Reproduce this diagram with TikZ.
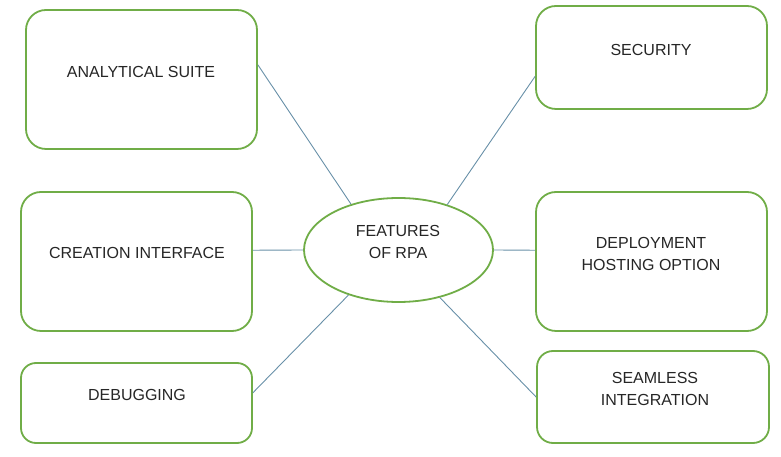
\documentclass[tikz,border=0pt]{standalone}
\usepackage{fontspec}
\setmainfont{Liberation Sans}
\usetikzlibrary{calc,shapes.geometric}
\definecolor{boxgreen}{RGB}{112,173,71}
\definecolor{linkblue}{RGB}{104,144,168}
\tikzset{
  featbox/.style={draw=boxgreen, line width=1.8pt, rounded corners=20pt, fill=white, inner sep=0pt},
  hub/.style={draw=boxgreen, line width=1.8pt, ellipse, fill=white, inner sep=0pt},
  lbl/.style={font=\fontsize{16}{22}\selectfont, text=black!85, align=center, inner sep=0pt},
  link/.style={draw=linkblue, line width=0.9pt}
}
\begin{document}
\begin{tikzpicture}[x=1pt,y=1pt]
\useasboundingbox (0,0) rectangle (781,457);
% boxes
\node[featbox, minimum width=231pt, minimum height=139pt] (as) at (141.5,377.5) {};
\node[featbox, minimum width=231pt, minimum height=139pt] (ci) at (136.5,195.5) {};
\node[featbox, minimum width=231pt, minimum height=80pt, rounded corners=15pt] (db) at (136.5,54) {};
\node[featbox, minimum width=231pt, minimum height=103pt] (se) at (651.5,399.5) {};
\node[featbox, minimum width=231pt, minimum height=139pt] (dh) at (651.5,195.5) {};
\node[featbox, minimum width=232pt, minimum height=92pt, rounded corners=16pt] (si) at (653,60) {};
\node[hub, minimum width=189pt, minimum height=104pt] (ell) at (398.5,207) {};
% labels
\node[lbl] (tas) at (141,385) {ANALYTICAL SUITE};
\node[lbl] (tci) at (137,204) {CREATION INTERFACE};
\node[lbl] (tdb) at (137,62) {DEBUGGING};
\node[lbl] (tse) at (651,407) {SECURITY};
\node[lbl] (tdh) at (651,203) {DEPLOYMENT\\HOSTING OPTION};
\node[lbl] (tsi) at (655,68.5) {SEAMLESS\\INTEGRATION};
\node[lbl] (tell) at (398,215) {FEATURES\\OF RPA};
% connectors
\draw[link] ($(as.north east)!0.396!(as.south east)$) -- (ell.136);
\draw[link] ($(ci.north east)!0.42!(ci.south east)$) -- (ell.west);
\draw[link] ($(db.north east)!0.375!(db.south east)$) -- (ell.222);
\draw[link] ($(se.north west)!0.68!(se.south west)$) -- (ell.43.5);
\draw[link] (ell.east) -- ($(dh.north west)!0.42!(dh.south west)$);
\draw[link] (ell.311) -- ($(si.north west)!0.5!(si.south west)$);
\end{tikzpicture}
\end{document}
